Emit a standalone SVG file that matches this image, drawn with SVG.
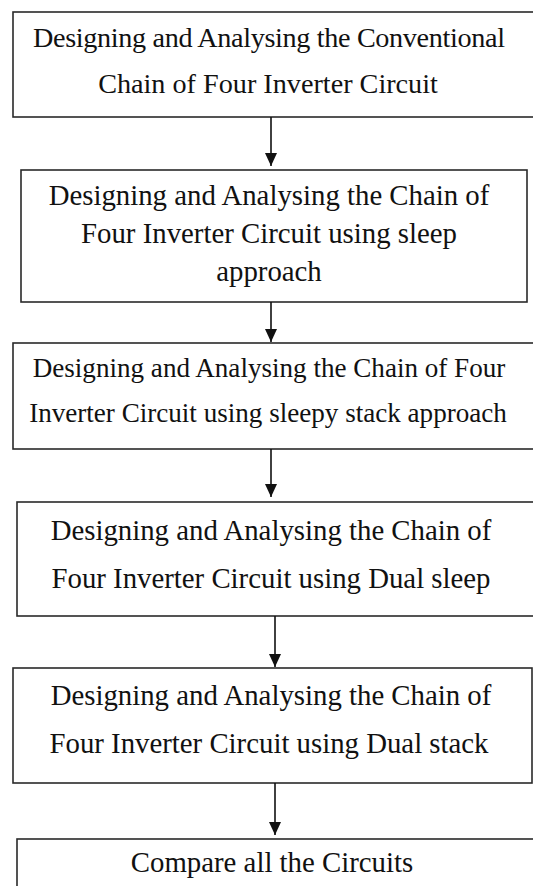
<svg xmlns="http://www.w3.org/2000/svg" width="533" height="886" viewBox="0 0 533 886">
<style>
.box{fill:#fff;stroke:#2a2a2a;stroke-width:1.6}
.t{fill:#111;text-anchor:middle}
.c{stroke:#111;stroke-width:1.6;fill:none;marker-end:url(#ah)}
</style>
<defs>
<marker id="ah" markerUnits="userSpaceOnUse" markerWidth="14" markerHeight="12" refX="13" refY="6" orient="auto" viewBox="0 0 14 12">
<path d="M0,0 L13,6 L0,12 Z" fill="#111"/>
</marker>
</defs>
<rect width="533" height="886" fill="#fff"/>
<g id="nodes" style="font-family:'Liberation Serif',serif;font-size:28.8px">
<g id="n1" style="font-size:28.2px">
<rect class="box" x="13" y="12" width="540" height="105"/>
<text class="t" x="269" y="46.5" textLength="472" lengthAdjust="spacing">Designing and Analysing the Conventional</text>
<text class="t" x="268" y="93">Chain of Four Inverter Circuit</text>
</g>
<g id="n2">
<rect class="box" x="21" y="170" width="506" height="132"/>
<text class="t" x="269" y="205">Designing and Analysing the Chain of</text>
<text class="t" x="269" y="243">Four Inverter Circuit using sleep</text>
<text class="t" x="269" y="281">approach</text>
</g>
<g id="n3" style="font-size:27.1px">
<rect class="box" x="13" y="343" width="540" height="106"/>
<text class="t" x="269" y="377">Designing and Analysing the Chain of Four</text>
<text class="t" x="268" y="422">Inverter Circuit using sleepy stack approach</text>
</g>
<g id="n4">
<rect class="box" x="17" y="502" width="540" height="114"/>
<text class="t" x="271" y="540">Designing and Analysing the Chain of</text>
<text class="t" x="271" y="588">Four Inverter Circuit using Dual sleep</text>
</g>
<g id="n5">
<rect class="box" x="13" y="668" width="519" height="115"/>
<text class="t" x="271" y="705">Designing and Analysing the Chain of</text>
<text class="t" x="269" y="753">Four Inverter Circuit using Dual stack</text>
</g>
<g id="n6">
<rect class="box" x="17" y="839" width="540" height="80"/>
<text class="t" x="272" y="872">Compare all the Circuits</text>
</g>
</g>
<g id="connectors">
<line class="c" x1="271" y1="117" x2="271" y2="166"/>
<line class="c" x1="271" y1="302" x2="271" y2="342"/>
<line class="c" x1="271" y1="449" x2="271" y2="497"/>
<line class="c" x1="275" y1="616" x2="275" y2="667"/>
<line class="c" x1="275" y1="783" x2="275" y2="835"/>
</g>
</svg>
